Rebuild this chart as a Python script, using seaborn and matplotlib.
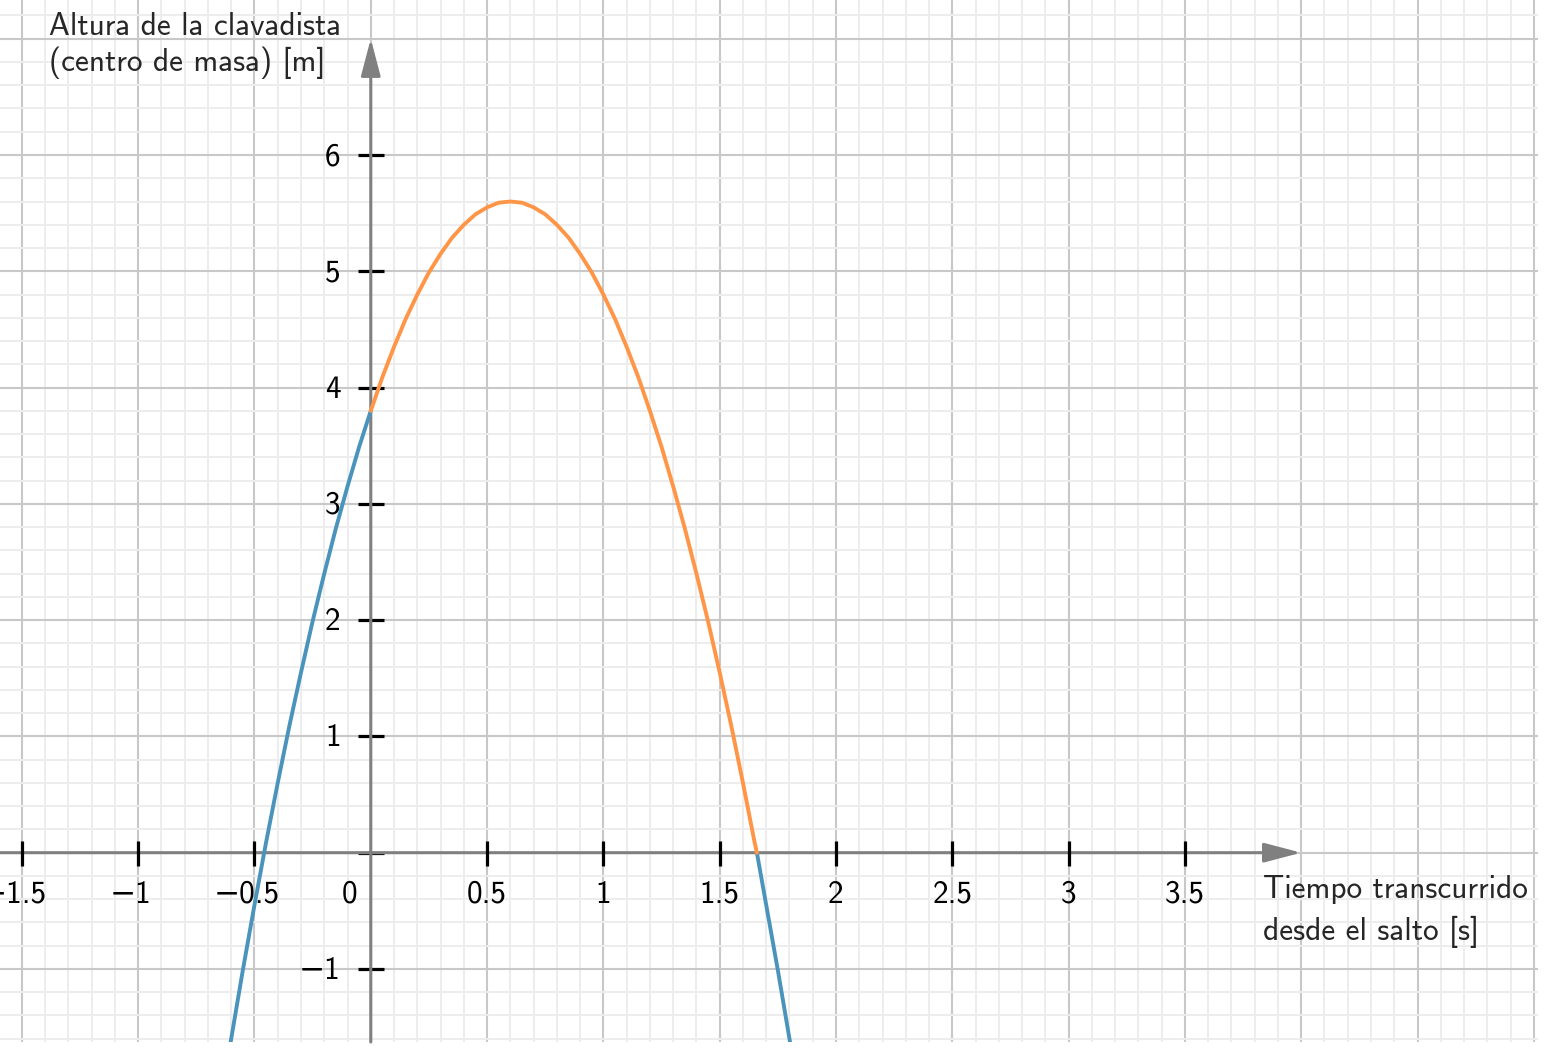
import numpy as np
import pandas as pd
import matplotlib
matplotlib.use("Agg")
import matplotlib.pyplot as plt
from matplotlib.ticker import MultipleLocator
import seaborn as sns

# valores: altura de la clavadista vs tiempo
t_antes = [-0.65, -0.60, -0.55, -0.50, -0.45, -0.40, -0.35, -0.30, -0.25, -0.20,
           -0.15, -0.10, -0.05, 0.00]
h_antes = [-2.21, -1.60, -1.01, -0.45, 0.09, 0.60, 1.09, 1.55, 1.99, 2.40,
           2.79, 3.15, 3.49, 3.80]

t_salto = [0.00, 0.05, 0.10, 0.15, 0.20, 0.25, 0.30, 0.35, 0.40, 0.45, 0.50,
           0.55, 0.60, 0.65, 0.70, 0.75, 0.80, 0.85, 0.90, 0.95, 1.00, 1.05,
           1.10, 1.15, 1.20, 1.25, 1.30, 1.35, 1.40, 1.45, 1.50, 1.55, 1.60,
           1.65, 1.66]
h_salto = [3.80, 4.09, 4.35, 4.59, 4.80, 4.99, 5.15, 5.29, 5.40, 5.49, 5.55,
           5.59, 5.60, 5.59, 5.55, 5.49, 5.40, 5.29, 5.15, 4.99, 4.80, 4.59,
           4.35, 4.09, 3.80, 3.49, 3.15, 2.79, 2.40, 1.99, 1.55, 1.09, 0.60,
           0.09, 0.00]

t_despues = [1.66, 1.70, 1.75, 1.80, 1.85]
h_despues = [0.00, -0.45, -1.01, -1.60, -2.21]

x_ticks = [-1.5, -1, -0.5, 0.5, 1, 1.5, 2, 2.5, 3, 3.5]
x_labels = ["\u22121.5", "\u22121", "\u22120.5", "0.5", "1", "1.5", "2", "2.5", "3", "3.5"]
y_ticks = [-1, 0, 1, 2, 3, 4, 5, 6]
y_labels = ["\u22121", "", "1", "2", "3", "4", "5", "6"]

y_title = ["Altura de la clavadista", "(centro de masa) [m]"]
x_title = ["Tiempo transcurrido", "desde el salto [s]"]

sns.set_theme(style="white")
fuente = ["cmss10", "DejaVu Sans"]
plt.rcParams["font.family"] = fuente
plt.rcParams["axes.unicode_minus"] = True

azul = "#4a94bc"
naranja = "#ff9547"
gris = "#808080"
fs = 22.5

fig = plt.figure(figsize=(15.52, 10.56), dpi=100)
ax = fig.add_axes([0, 14 / 1056, 1538 / 1552, 1042 / 1056])
ax.set_xlim(-1.594, 5.018)
ax.set_ylim(-1.628, 7.333)

# cuadricula
ax.xaxis.set_major_locator(MultipleLocator(0.5))
ax.xaxis.set_minor_locator(MultipleLocator(0.1))
ax.yaxis.set_major_locator(MultipleLocator(1))
ax.yaxis.set_minor_locator(MultipleLocator(0.2))
ax.grid(which="minor", color="#ededed", linewidth=1.4, zorder=0)
ax.grid(which="major", color="#c8c8c8", linewidth=1.5, zorder=0)
ax.tick_params(which="both", length=0, labelbottom=False, labelleft=False)
for s in ax.spines.values():
    s.set_visible(False)
ax.set_axisbelow(True)

# ejes con flecha
ax.annotate("", xy=(4.0, 0), xytext=(-1.594, 0),
            arrowprops=dict(arrowstyle="-|>,head_length=1.9,head_width=0.5",
                            color=gris, lw=2.2, shrinkA=0, shrinkB=0), zorder=2)
ax.annotate("", xy=(0, 7.0), xytext=(0, -1.628),
            arrowprops=dict(arrowstyle="-|>,head_length=1.9,head_width=0.5",
                            color=gris, lw=2.2, shrinkA=0, shrinkB=0), zorder=2)

# marcas
ax.plot(x_ticks, [0] * len(x_ticks), linestyle="none", marker="|",
        markersize=18, markeredgewidth=2.3, color="black", zorder=3)
ax.plot([0] * len(y_ticks), y_ticks, linestyle="none", marker="_",
        markersize=19, markeredgewidth=2.3, color="black", zorder=1)

for v, lab in zip(x_ticks, x_labels):
    dx = -8 if v < 0 else 0
    ax.annotate(lab, xy=(v, 0), xytext=(dx, -50), textcoords="offset pixels",
                ha="center", va="baseline", fontsize=fs, color="black")
ax.annotate("0", xy=(0, 0), xytext=(-21, -50), textcoords="offset pixels",
            ha="center", va="baseline", fontsize=fs, color="black")
for v, lab in zip(y_ticks, y_labels):
    ax.annotate(lab, xy=(0, v), xytext=(-30, -10), textcoords="offset pixels",
                ha="right", va="baseline", fontsize=fs, color="black")

# curvas
sns.lineplot(x=t_antes, y=h_antes, sort=False, color=azul, linewidth=2.8,
             ax=ax, zorder=4)
sns.lineplot(x=t_despues, y=h_despues, sort=False, color=azul, linewidth=2.8,
             ax=ax, zorder=4)
sns.lineplot(x=t_salto, y=h_salto, sort=False, color=naranja, linewidth=2.8,
             ax=ax, zorder=4)

# titulos de los ejes
ax.text(-1.383, 7.032, y_title[0], fontsize=fs, ha="left", va="baseline")
ax.text(-1.383, 6.72, y_title[1], fontsize=fs, ha="left", va="baseline")
ax.text(3.836, -0.39, x_title[0], fontsize=fs, ha="left", va="baseline")
ax.text(3.836, -0.751, x_title[1], fontsize=fs, ha="left", va="baseline")

ax.set_xlabel("")
ax.set_ylabel("")
fig.savefig("out.png", dpi=100, facecolor="white")
